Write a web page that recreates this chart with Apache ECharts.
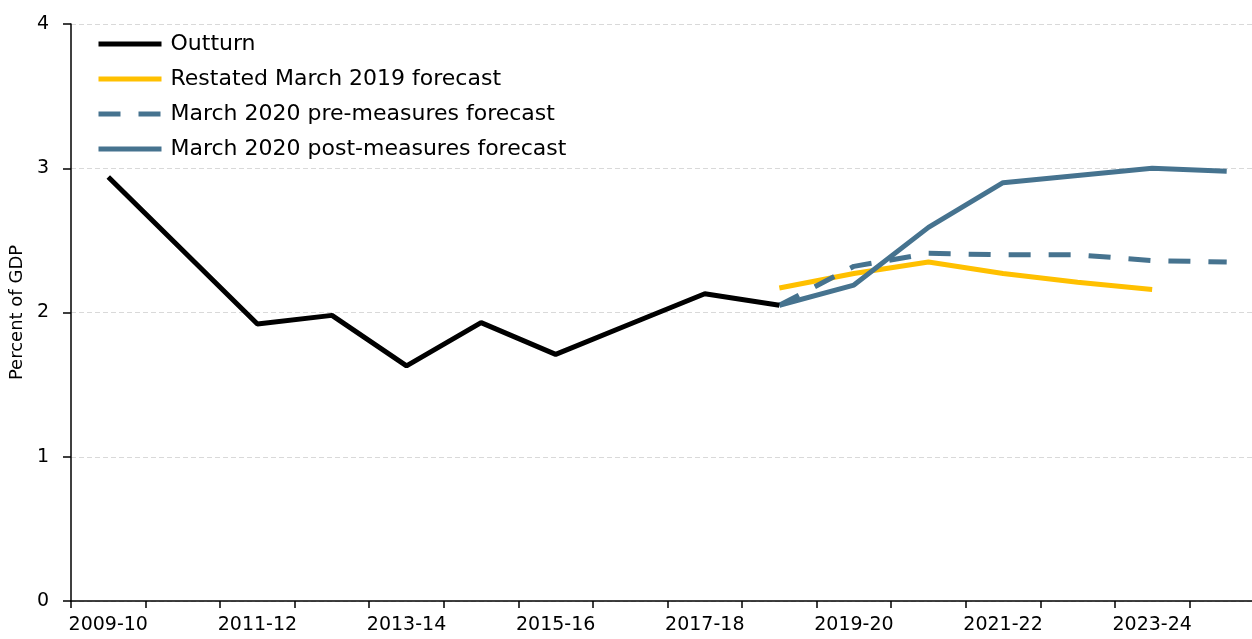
<!DOCTYPE html>
<html>
<head>
<meta charset="utf-8">
<script src="https://cdn.jsdelivr.net/npm/echarts@6/dist/echarts.min.js"></script>
<style>
  html, body { margin: 0; padding: 0; background: #ffffff; overflow: hidden; }
  /* the plot area continues a little past the right edge of the window */
  #chart { width: 1264px; height: 639px; }
</style>
</head>
<body>
<div id="chart"></div>
<script>
// Fiscal years on the category axis
const years = ['2009-10', '2010-11', '2011-12', '2012-13', '2013-14', '2014-15', '2015-16', '2016-17',
  '2017-18', '2018-19', '2019-20', '2020-21', '2021-22', '2022-23', '2023-24', '2024-25'];

// Percent of GDP
const outturn = [2.94, 2.43, 1.92, 1.98, 1.63, 1.93, 1.71, 1.92, 2.13, 2.05,
  null, null, null, null, null, null];
const restatedMarch2019 = [null, null, null, null, null, null, null, null, null, 2.17,
  2.27, 2.35, 2.27, 2.21, 2.16, null];
const march2020Pre = [null, null, null, null, null, null, null, null, null, 2.05,
  2.32, 2.41, 2.40, 2.40, 2.36, 2.35];
const march2020Post = [null, null, null, null, null, null, null, null, null, 2.05,
  2.19, 2.59, 2.90, 2.95, 3.00, 2.98];

const yTicks = { min: 0, max: 4, interval: 1 };

const FONT = 'DejaVu Sans';
const BLUE = '#46738f';

const chart = echarts.init(document.getElementById('chart'));
chart.setOption({
  animation: false,
  backgroundColor: '#ffffff',
  textStyle: { fontFamily: FONT },
  grid: { left: 68, right: 0, top: 24, bottom: 38, containLabel: false },
  legend: {
    orient: 'vertical',
    left: 91,
    top: 28,
    itemWidth: 63,
    itemHeight: 14,
    itemGap: 13,
    itemStyle: { opacity: 0 },
    lineStyle: { width: 5 },
    textStyle: { fontFamily: FONT, fontSize: 22, color: '#000000', padding: [0, 0, 0, 4] },
    data: ['Outturn', 'Restated March 2019 forecast', 'March 2020 pre-measures forecast', 'March 2020 post-measures forecast']
  },
  xAxis: {
    type: 'category',
    data: years,
    boundaryGap: true,
    axisLine: { lineStyle: { color: '#000000', width: 1.5 } },
    axisTick: { show: true, interval: 0, length: 7, lineStyle: { color: '#000000', width: 1.5 } },
    axisLabel: { interval: 1, fontFamily: FONT, fontSize: 19, color: '#000000', margin: 15 },
    splitLine: { show: false }
  },
  yAxis: {
    type: 'value',
    min: yTicks.min,
    max: yTicks.max,
    interval: yTicks.interval,
    name: 'Percent of GDP',
    nameLocation: 'middle',
    nameGap: 39,
    nameTextStyle: { fontFamily: FONT, fontSize: 18, color: '#000000' },
    axisLine: { show: true, lineStyle: { color: '#000000', width: 1.5 } },
    axisTick: { show: true, length: 8, lineStyle: { color: '#000000', width: 1.5 } },
    axisLabel: { fontFamily: FONT, fontSize: 19, color: '#000000', margin: 22 },
    splitLine: { show: true, lineStyle: { color: '#d9d9d9', type: [5, 3], width: 1 } }
  },
  series: [
    {
      name: 'Outturn', type: 'line', data: outturn, symbol: 'none',
      lineStyle: { color: '#000000', width: 5 }, itemStyle: { color: '#000000' }, z: 5
    },
    {
      name: 'Restated March 2019 forecast', type: 'line', data: restatedMarch2019, symbol: 'none',
      lineStyle: { color: '#ffc000', width: 5 }, itemStyle: { color: '#ffc000' }, z: 2
    },
    {
      name: 'March 2020 pre-measures forecast', type: 'line', data: march2020Pre, symbol: 'none',
      lineStyle: { color: BLUE, width: 5, type: [22, 18] }, itemStyle: { color: BLUE }, z: 3
    },
    {
      name: 'March 2020 post-measures forecast', type: 'line', data: march2020Post, symbol: 'none',
      lineStyle: { color: BLUE, width: 5 }, itemStyle: { color: BLUE }, z: 4
    }
  ]
});
</script>
</body>
</html>
